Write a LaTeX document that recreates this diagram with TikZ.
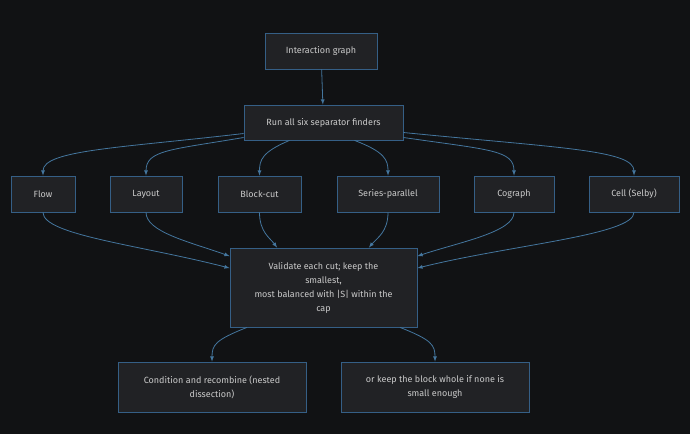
\documentclass[tikz,border=0pt]{standalone}
\usepackage{fontspec}
\setmainfont{Fira Sans}
\usepackage{tikz}
\definecolor{bg}{HTML}{111214}
\definecolor{boxfill}{HTML}{212225}
\definecolor{boxline}{HTML}{355F86}
\definecolor{edge}{HTML}{44769E}
\definecolor{txt}{HTML}{CACACA}

\tikzset{
	box/.style={draw=boxline, fill=boxfill, rectangle, line width=0.8pt, text=txt, font=\fontsize{9}{14}\selectfont, align=center, inner sep=0pt},
	flow/.style={->, >=latex, line width=0.8pt, edge}
}

\begin{document}
\begin{tikzpicture}[x=1pt, y=-1pt]
	\fill[bg] (0,0) rectangle (690,434);
	\useasboundingbox (0,0) rectangle (690,434);

	\node[box, minimum width=112pt, minimum height=36pt] (graph) at (321,51) {Interaction graph};
	\node[box, minimum width=159pt, minimum height=35pt] (run) at (323.5,122.5) {Run all six separator finders};

	\node[box, minimum width=64pt, minimum height=36pt] (flowf) at (43,194) {Flow};
	\node[box, minimum width=72pt, minimum height=36pt] (layout) at (146,194) {Layout};
	\node[box, minimum width=83pt, minimum height=36pt] (blockcut) at (259.5,194) {Block-cut};
	\node[box, minimum width=102pt, minimum height=36pt] (sp) at (388,194) {Series-parallel};
	\node[box, minimum width=80pt, minimum height=36pt] (cograph) at (514,194) {Cograph};
	\node[box, minimum width=90pt, minimum height=36pt] (cell) at (634,194) {Cell (Selby)};

	\node[box, minimum width=187pt, minimum height=79pt] (validate) at (323.5,287.5) {Validate each cut; keep the\\smallest,\\most balanced with |S| within the\\cap};

	\node[box, minimum width=188pt, minimum height=50pt] (recombine) at (212,387) {Condition and recombine (nested\\dissection)};
	\node[box, minimum width=188pt, minimum height=50pt] (whole) at (435,387) {or keep the block whole if none is\\small enough};

	\draw [flow] (graph) -- (run);

	% fan out to the finders
	\draw [flow] ([yshift=-11pt] run.west) .. controls (120,148) and (43,150) .. (flowf.north);
	\draw [flow] ([yshift=-15pt] run.west) .. controls (170,150) and (146,150) .. (layout.north);
	\draw [flow] ([xshift=-34pt] run.south) .. controls (262,152) and (259.5,160) .. (blockcut.north);
	\draw [flow] ([xshift=31pt] run.south) .. controls (385,152) and (388,160) .. (sp.north);
	\draw [flow] ([yshift=-15pt] run.east) .. controls (490,150) and (514,150) .. (cograph.north);
	\draw [flow] ([yshift=-10pt] run.east) .. controls (560,148) and (634,150) .. (cell.north);

	% fan in to validation
	\draw [flow] (flowf.south) .. controls (43,235) and (140,245) .. ([yshift=-20.5pt] validate.north west);
	\draw [flow] (layout.south) .. controls (146,232) and (190,242) .. ([yshift=-8.5pt] validate.north west);
	\draw [flow] (blockcut.south) .. controls (259.5,232) and (270,238) .. ([xshift=47.5pt] validate.north west);
	\draw [flow] (sp.south) .. controls (388,232) and (377,238) .. ([xshift=-48.5pt] validate.north east);
	\draw [flow] (cograph.south) .. controls (514,232) and (460,242) .. ([yshift=-8.5pt] validate.north east);
	\draw [flow] (cell.south) .. controls (634,235) and (510,245) .. ([yshift=-20.5pt] validate.north east);

	% outcomes
	\draw [flow] ([xshift=-76.5pt] validate.south) .. controls (215,340) and (212,345) .. (recombine.north);
	\draw [flow] ([xshift=76.5pt] validate.south) .. controls (432,340) and (435,345) .. (whole.north);
\end{tikzpicture}
\end{document}
